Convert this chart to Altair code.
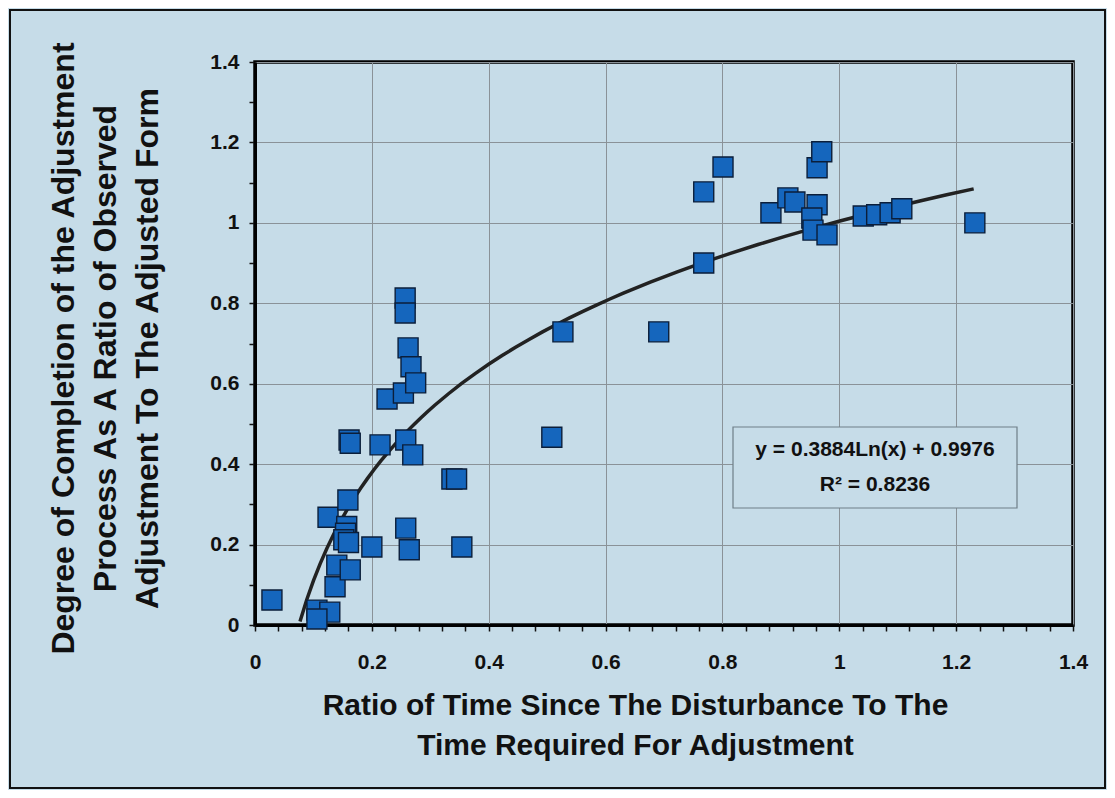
import altair as alt
import pandas as pd

# ---- data ----
x_vals = [0.029, 0.106, 0.128, 0.106, 0.137, 0.140, 0.163, 0.125, 0.159, 0.157,
          0.155, 0.152, 0.160, 0.200, 0.161, 0.163, 0.214, 0.226, 0.254, 0.257,
          0.257, 0.262, 0.267, 0.275, 0.258, 0.270, 0.258, 0.264, 0.337, 0.345,
          0.354, 0.508, 0.527, 0.691, 0.768, 0.768, 0.801, 0.883, 0.912, 0.924,
          0.962, 0.970, 0.962, 0.953, 0.955, 0.979, 1.041, 1.064, 1.087, 1.107,
          1.232]
y_vals = [0.062, 0.037, 0.032, 0.015, 0.095, 0.149, 0.137, 0.268, 0.311, 0.245,
          0.228, 0.212, 0.205, 0.194, 0.460, 0.452, 0.448, 0.562, 0.577, 0.813,
          0.776, 0.689, 0.642, 0.602, 0.460, 0.423, 0.241, 0.187, 0.363, 0.363,
          0.194, 0.467, 0.729, 0.729, 0.900, 1.077, 1.139, 1.025, 1.062, 1.052,
          1.137, 1.177, 1.045, 1.012, 0.982, 0.970, 1.017, 1.020, 1.025, 1.035,
          1.000]

x_ticks = [0, 0.04, 0.08, 0.12, 0.16, 0.2, 0.24, 0.28, 0.32, 0.36, 0.4, 0.44, 0.48,
           0.52, 0.56, 0.6, 0.64, 0.68, 0.72, 0.76, 0.8, 0.84, 0.88, 0.92, 0.96, 1.0,
           1.04, 1.08, 1.12, 1.16, 1.2, 1.24, 1.28, 1.32, 1.36, 1.4]
y_ticks = [0, 0.1, 0.2, 0.3, 0.4, 0.5, 0.6, 0.7, 0.8, 0.9, 1.0, 1.1, 1.2, 1.3, 1.4]

trend_extent = [0.077, 1.23]
eq_line1 = "y = 0.3884Ln(x) + 0.9976"
eq_line2 = "R\u00b2 = 0.8236"

x_title = ["Ratio of Time Since The Disturbance To The", "Time Required For Adjustment"]
y_title = ["Degree of Completion of the Adjustment",
           "Process As A Ratio of Observed",
           "Adjustment To The Adjusted Form"]

df = pd.DataFrame({"x": x_vals, "y": y_vals})
one = pd.DataFrame({"k": [0]})

W, H = 818, 563
BG = "#c6dce8"
FONT = "Liberation Sans"

major = "round(datum.value*100) % 20 == 0"

xscale = alt.Scale(domain=[0, 1.4], nice=False, zero=False)
yscale = alt.Scale(domain=[0, 1.4], nice=False, zero=False)

xaxis = alt.Axis(values=x_ticks, labelExpr=f"{major} ? format(datum.value, '~g') : ''",
                 labelOverlap=False,
                 gridOpacity=alt.condition(major, alt.value(1), alt.value(0)),
                 title=x_title, titleY=80, titleBaseline="middle", titleLineHeight=40,
                 titleX=380, titleFontSize=30, labelPadding=20, labelFlush=False)
yaxis = alt.Axis(values=y_ticks, labelExpr=f"{major} ? format(datum.value, '~g') : ''",
                 labelOverlap=False,
                 gridOpacity=alt.condition(major, alt.value(1), alt.value(0)),
                 title=y_title, titleX=-192, titleY=286, titleBaseline="middle",
                 titleLineHeight=42, titleAngle=-90, titleAlign="center",
                 titleFontSize=32, labelPadding=10, labelFlush=False)

xenc = alt.X("x:Q", scale=xscale, axis=xaxis)
yenc = alt.Y("y:Q", scale=yscale, axis=yaxis)

points = alt.Chart(df).mark_point(shape="square", filled=True, size=400,
                                  color="#1566bd", stroke="#0b1e3a", strokeWidth=1.4,
                                  opacity=1).encode(x=xenc, y=yenc)

trend = alt.Chart(df).transform_regression(
    "x", "y", method="log", extent=trend_extent
).mark_line(color="#222222", strokeWidth=3.5).encode(x=xenc, y=yenc)

box = alt.Chart(one).mark_rect(fill=BG, stroke="#6f7f88", strokeWidth=1.2).encode(
    x=alt.value(478), x2=alt.value(762), y=alt.value(365), y2=alt.value(446)
)
t1 = alt.Chart(one).mark_text(text=eq_line1, font=FONT, fontWeight="bold", fontSize=21,
                              color="#111111").encode(x=alt.value(620), y=alt.value(388))
t2 = alt.Chart(one).mark_text(text=eq_line2, font=FONT, fontWeight="bold", fontSize=21,
                              color="#111111").encode(x=alt.value(620), y=alt.value(423))

frame = alt.Chart(one).mark_rect(fill=None, stroke="#111111", strokeWidth=2, clip=False).encode(
    x=alt.value(-245), x2=alt.value(W + 32), y=alt.value(-52), y2=alt.value(H + 163)
)

chart = alt.layer(trend, points, box, t1, t2, frame).properties(
    width=W, height=H,
    autosize=alt.AutoSizeParams(type="none"),
    padding={"left": 247, "top": 54, "right": 34, "bottom": 165},
    background=BG,
).configure_view(
    stroke="#000000", strokeWidth=3.5, fill=BG
).configure_axis(
    labelFont=FONT, labelFontWeight="bold", labelFontSize=21, labelColor="#111111",
    titleFont=FONT, titleFontWeight="bold", titleFontSize=28, titleColor="#111111",
    domainColor="#000000", domainWidth=3,
    tickColor="#111111", tickWidth=1.5, tickSize=6,
    gridColor="#8a9298", gridWidth=1,
)

chart.save("out.html", embed_options={"renderer": "svg", "actions": False})
